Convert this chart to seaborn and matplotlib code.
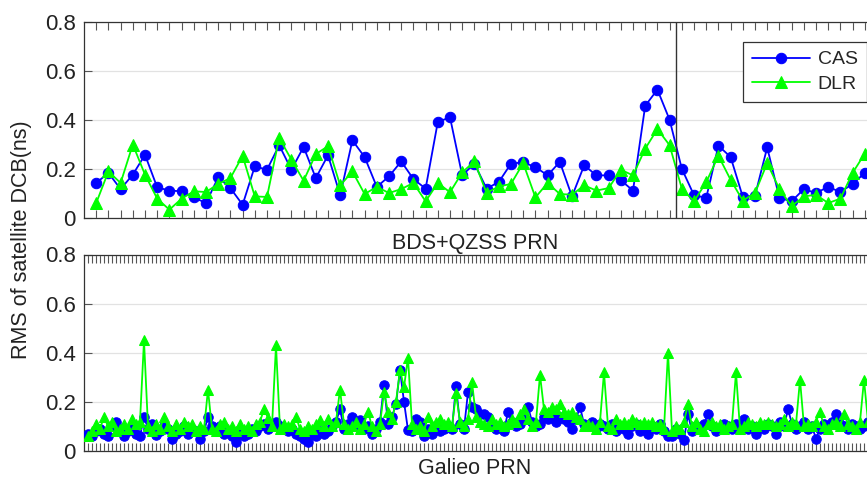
import numpy as np
import pandas as pd
import matplotlib
matplotlib.use("Agg")
import matplotlib.pyplot as plt
import seaborn as sns

# ---------------- data ----------------
bds_cas = [0.143, 0.184, 0.118, 0.177, 0.258, 0.125, 0.112, 0.109, 0.084, 0.061,
           0.166, 0.122, 0.054, 0.211, 0.197, 0.297, 0.197, 0.290, 0.163, 0.256,
           0.093, 0.317, 0.249, 0.127, 0.170, 0.231, 0.159, 0.120, 0.392, 0.411,
           0.174, 0.222, 0.120, 0.147, 0.222, 0.227, 0.208, 0.174, 0.229, 0.088,
           0.215, 0.174, 0.174, 0.154, 0.112, 0.458, 0.524, 0.401, 0.201, 0.093,
           0.082, 0.295, 0.249, 0.086, 0.091, 0.288, 0.082, 0.068, 0.118, 0.102,
           0.127, 0.106, 0.139, 0.184]
bds_dlr = [0.061, 0.190, 0.143, 0.300, 0.177, 0.079, 0.034, 0.079, 0.109, 0.106,
           0.139, 0.163, 0.254, 0.088, 0.086, 0.327, 0.238, 0.152, 0.261, 0.293,
           0.133, 0.190, 0.098, 0.127, 0.102, 0.118, 0.143, 0.068, 0.143, 0.105,
           0.186, 0.231, 0.102, 0.129, 0.139, 0.224, 0.084, 0.143, 0.098, 0.095,
           0.133, 0.112, 0.122, 0.197, 0.174, 0.283, 0.363, 0.297, 0.120, 0.068,
           0.146, 0.254, 0.156, 0.071, 0.102, 0.224, 0.118, 0.048, 0.088, 0.095,
           0.061, 0.079, 0.184, 0.263]

gal_cas = [0.07, 0.06, 0.08, 0.09, 0.07, 0.06, 0.10, 0.12, 0.09, 0.06,
           0.08, 0.10, 0.07, 0.06, 0.14, 0.09, 0.11, 0.065, 0.08, 0.10,
           0.09, 0.05, 0.07, 0.08, 0.10, 0.07, 0.09, 0.08, 0.05, 0.08,
           0.14, 0.10, 0.09, 0.10, 0.07, 0.08, 0.06, 0.035, 0.07, 0.06,
           0.07, 0.09, 0.08, 0.10, 0.11, 0.09, 0.10, 0.12, 0.10, 0.09,
           0.08, 0.09, 0.07, 0.06, 0.05, 0.035, 0.07, 0.06, 0.08, 0.07,
           0.08, 0.10, 0.12, 0.17, 0.09, 0.11, 0.137, 0.10, 0.126, 0.09,
           0.10, 0.07, 0.09, 0.12, 0.27, 0.11, 0.14, 0.19, 0.33, 0.20,
           0.085, 0.08, 0.13, 0.12, 0.06, 0.09, 0.07, 0.10, 0.08, 0.09,
           0.10, 0.09, 0.265, 0.11, 0.09, 0.24, 0.18, 0.17, 0.15, 0.15,
           0.14, 0.10, 0.09, 0.10, 0.08, 0.16, 0.12, 0.10, 0.11, 0.13,
           0.18, 0.12, 0.10, 0.11, 0.14, 0.13, 0.15, 0.12, 0.14, 0.13,
           0.12, 0.09, 0.13, 0.18, 0.11, 0.10, 0.12, 0.09, 0.11, 0.10,
           0.09, 0.11, 0.08, 0.10, 0.09, 0.07, 0.10, 0.11, 0.08, 0.09,
           0.07, 0.10, 0.09, 0.11, 0.08, 0.06, 0.06, 0.09, 0.07, 0.045,
           0.15, 0.08, 0.10, 0.09, 0.11, 0.15, 0.10, 0.08, 0.09, 0.11,
           0.10, 0.09, 0.11, 0.10, 0.13, 0.09, 0.10, 0.07, 0.10, 0.09,
           0.11, 0.10, 0.07, 0.12, 0.10, 0.17, 0.11, 0.09, 0.10, 0.12,
           0.09, 0.10, 0.05, 0.09, 0.11, 0.10, 0.12, 0.15, 0.11, 0.10,
           0.09, 0.11, 0.10, 0.09, 0.10, 0.12]
gal_dlr = [0.06, 0.08, 0.11, 0.09, 0.14, 0.10, 0.12, 0.08, 0.09, 0.11,
           0.09, 0.13, 0.11, 0.12, 0.45, 0.10, 0.08, 0.11, 0.09, 0.14,
           0.10, 0.08, 0.11, 0.09, 0.12, 0.10, 0.11, 0.08, 0.10, 0.09,
           0.25, 0.09, 0.08, 0.11, 0.12, 0.09, 0.10, 0.08, 0.11, 0.09,
           0.10, 0.08, 0.11, 0.12, 0.17, 0.135, 0.10, 0.43, 0.09, 0.11,
           0.10, 0.11, 0.14, 0.09, 0.08, 0.10, 0.09, 0.11, 0.125, 0.10,
           0.13, 0.10, 0.12, 0.25, 0.11, 0.09, 0.10, 0.12, 0.09, 0.11,
           0.16, 0.10, 0.08, 0.11, 0.24, 0.16, 0.13, 0.20, 0.33, 0.26,
           0.38, 0.11, 0.09, 0.10, 0.08, 0.14, 0.10, 0.12, 0.13, 0.11,
           0.12, 0.10, 0.235, 0.12, 0.10, 0.13, 0.28, 0.14, 0.12, 0.11,
           0.10, 0.13, 0.11, 0.12, 0.10, 0.11, 0.13, 0.12, 0.15, 0.17,
           0.13, 0.10, 0.12, 0.31, 0.17, 0.16, 0.18, 0.17, 0.19, 0.16,
           0.15, 0.16, 0.14, 0.13, 0.10, 0.11, 0.10, 0.09, 0.12, 0.32,
           0.10, 0.09, 0.13, 0.11, 0.12, 0.11, 0.13, 0.12, 0.11, 0.12,
           0.11, 0.12, 0.10, 0.11, 0.09, 0.40, 0.08, 0.10, 0.09, 0.12,
           0.19, 0.10, 0.12, 0.09, 0.08, 0.11, 0.12, 0.10, 0.11, 0.09,
           0.10, 0.11, 0.32, 0.09, 0.10, 0.12, 0.11, 0.10, 0.12, 0.11,
           0.12, 0.11, 0.10, 0.11, 0.13, 0.10, 0.12, 0.11, 0.29, 0.10,
           0.11, 0.10, 0.12, 0.16, 0.10, 0.09, 0.11, 0.12, 0.10, 0.15,
           0.11, 0.10, 0.09, 0.12, 0.29, 0.12]

series_names = ["CAS", "DLR"]
y_ticks = [0, 0.2, 0.4, 0.6, 0.8]
y_tick_labels = ["0", "0.2", "0.4", "0.6", "0.8"]
top_xlabel = "BDS+QZSS PRN"
bottom_xlabel = "Galieo PRN"
y_label = "RMS of satellite DCB(ns)"

# ---------------- style ----------------
sns.set_style("white")
plt.rcParams["font.family"] = ["Liberation Sans", "DejaVu Sans"]

W, H = 867, 482
fig = plt.figure(figsize=(W / 100, H / 100), dpi=100)

def fx(px):
    return px / W

def fy(py):
    return 1 - py / H

ax1 = fig.add_axes([fx(84), fy(218), fx(868) - fx(84), (218 - 22) / H])
ax2 = fig.add_axes([fx(84), fy(451), fx(868) - fx(84), (451 - 254.5) / H])

BLUE = "#0000FF"
GREEN = "#00FF00"
SPINE = "#333333"
TEXT = "#222222"

def draw(ax, cas, dlr, ms_o, ms_t, lw):
    df_c = pd.DataFrame({"prn": np.arange(1, len(cas) + 1), "rms": cas})
    df_d = pd.DataFrame({"prn": np.arange(1, len(dlr) + 1), "rms": dlr})
    sns.lineplot(data=df_c, x="prn", y="rms", ax=ax, color=BLUE, marker="o",
                 markersize=ms_o, markeredgecolor=BLUE, markerfacecolor=BLUE,
                 linewidth=lw, label=series_names[0], sort=False, errorbar=None,
                 zorder=3)
    sns.lineplot(data=df_d, x="prn", y="rms", ax=ax, color=GREEN, marker="^",
                 markersize=ms_t, markeredgecolor=GREEN, markerfacecolor=GREEN,
                 linewidth=lw, label=series_names[1], sort=False, errorbar=None,
                 zorder=4)

draw(ax1, bds_cas, bds_dlr, 7.5, 8.5, 1.3)
draw(ax2, gal_cas, gal_dlr, 6.8, 7.5, 1.3)

ax1.set_xlim(0, 784 / 12.2)
ax2.set_xlim(0, 196)

for ax, n in ((ax1, len(bds_cas)), (ax2, len(gal_cas))):
    ax.set_ylim(0, 0.8)
    ax.set_yticks(y_ticks)
    ax.set_yticklabels(y_tick_labels)
    ax.set_xticks(np.arange(1, n + 1))
    ax.set_xticklabels([])
    ax.set_xlabel("")
    ax.set_ylabel("")
    ax.grid(axis="y", color="#e2e2e2", linewidth=0.9)
    ax.grid(axis="x", visible=False)
    ax.set_axisbelow(True)
    ax.tick_params(axis="x", direction="in", top=True, bottom=True, length=6,
                   width=0.8, color="#555555")
    ax.tick_params(axis="y", direction="in", left=True, right=False, length=6,
                   width=0.8, color="#555555", labelsize=16, pad=6, labelcolor=TEXT)
    for s in ax.spines.values():
        s.set_color(SPINE)
        s.set_linewidth(0.9)
    if ax.get_legend() is not None:
        ax.get_legend().remove()

ax1.axvline(48.5, color="#333333", linewidth=1.0, zorder=5)

handles = ax1.lines[:2]
leg = ax1.legend(handles, series_names, loc="upper left",
                 bbox_to_anchor=(fx(743), fy(42)), bbox_transform=fig.transFigure,
                 borderaxespad=0, fontsize=14, frameon=True, fancybox=False,
                 framealpha=1, edgecolor=SPINE, handlelength=3.0,
                 handletextpad=0.4, borderpad=0.45, labelspacing=0.35)
leg.get_frame().set_linewidth(0.9)

fig.text(fx(475), fy(244), top_xlabel, ha="center", va="center", fontsize=15.5, color=TEXT)
fig.text(fx(475), fy(469), bottom_xlabel, ha="center", va="center", fontsize=15.5, color=TEXT)
fig.text(fx(22), fy(240), y_label, ha="center", va="center", rotation=90,
         fontsize=15.5, color=TEXT)

fig.savefig("out.png", dpi=100)
